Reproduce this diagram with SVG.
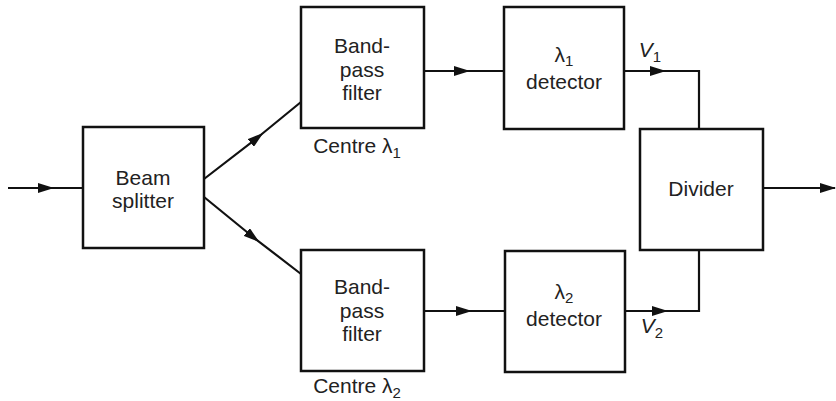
<svg xmlns="http://www.w3.org/2000/svg" width="836" height="401" viewBox="0 0 836 401">
<defs>
<marker id="ah" markerWidth="16" markerHeight="10" refX="15" refY="5" orient="auto" markerUnits="userSpaceOnUse">
<path d="M0,0 L16,5 L0,10 Z" fill="#111"/>
</marker>
<marker id="am" markerWidth="16" markerHeight="10" refX="8" refY="5" orient="auto" markerUnits="userSpaceOnUse">
<path d="M0,0 L16,5 L0,10 Z" fill="#111"/>
</marker>
<style>
.box{fill:#fff;stroke:#111;stroke-width:2.5}
.ln{fill:none;stroke:#111;stroke-width:2.2}
text{font-family:"Liberation Sans",Arial,sans-serif;font-size:21px;fill:#222;text-anchor:middle}
.sub{font-size:15px}
.it{font-style:italic}
</style>
</defs>
<g id="connectors">
<path class="ln" d="M8,188 L46,188 L83,188" marker-mid="url(#am)"/>
<path class="ln" d="M204,179 L257,138 L301,102" marker-mid="url(#am)"/>
<path class="ln" d="M204,197 L253,237 L301,274" marker-mid="url(#am)"/>
<path class="ln" d="M424,71 L462,71 L504,71" marker-mid="url(#am)"/>
<path class="ln" d="M424,311 L464,311 L505,311" marker-mid="url(#am)"/>
<path class="ln" d="M624,71 L658,71 L699,71" marker-mid="url(#am)"/>
<path class="ln" d="M699,70 L699,129"/>
<path class="ln" d="M625,311 L660,311 L699,311" marker-mid="url(#am)"/>
<path class="ln" d="M699,312 L699,250"/>
<path class="ln" d="M763,188 L835,188" marker-end="url(#ah)"/>
</g>
<g id="beam-splitter">
<rect class="box" x="83" y="127" width="121" height="121"/>
<text x="143" y="185">Beam</text>
<text x="143" y="208">splitter</text>
</g>
<g id="bandpass-1">
<rect class="box" x="301" y="7" width="123" height="121"/>
<text x="362" y="53">Band-</text>
<text x="362" y="77">pass</text>
<text x="362" y="100">filter</text>
<text x="357" y="153">Centre λ<tspan class="sub" dy="5">1</tspan></text>
</g>
<g id="bandpass-2">
<rect class="box" x="301" y="250" width="123" height="121"/>
<text x="362" y="294">Band-</text>
<text x="362" y="318">pass</text>
<text x="362" y="341">filter</text>
<text x="357" y="393">Centre λ<tspan class="sub" dy="5">2</tspan></text>
</g>
<g id="detector-1">
<rect class="box" x="504" y="7" width="120" height="122"/>
<text x="564" y="62">λ<tspan class="sub" dy="4">1</tspan></text>
<text x="564" y="89">detector</text>
</g>
<g id="detector-2">
<rect class="box" x="505" y="251" width="120" height="121"/>
<text x="564" y="299">λ<tspan class="sub" dy="4">2</tspan></text>
<text x="564" y="326">detector</text>
</g>
<g id="divider">
<rect class="box" x="640" y="129" width="123" height="121"/>
<text x="701" y="196">Divider</text>
</g>
<g id="labels">
<text x="650" y="57"><tspan class="it">V</tspan><tspan class="sub" dy="5">1</tspan></text>
<text x="652" y="333"><tspan class="it">V</tspan><tspan class="sub" dy="5">2</tspan></text>
</g>
</svg>
